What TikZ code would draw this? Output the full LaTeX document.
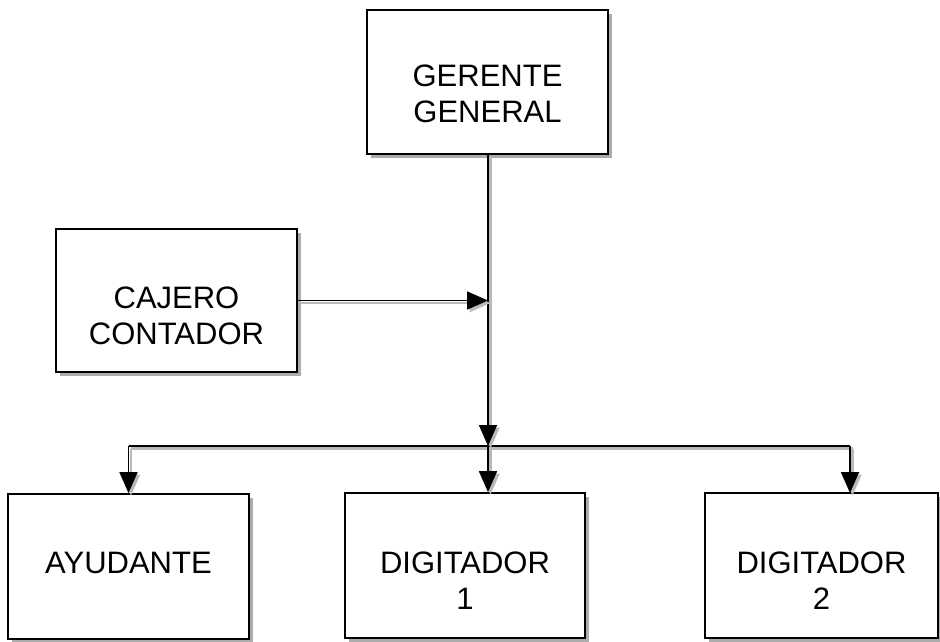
\documentclass[tikz,border=0pt]{standalone}
\usepackage{fontspec}
\setmainfont{Liberation Sans}
\usetikzlibrary{arrows.meta,shadows,calc}
\newcommand{\shiftedtext}[2]{\raisebox{#1}[\height][\depth]{\begin{tabular}{@{}c@{}}#2\end{tabular}}}
\begin{document}
\begin{tikzpicture}[x=1pt,y=1pt,
  box/.style={draw=black, line width=1.8pt, fill=white, rectangle, align=center,
    inner sep=0pt, font=\fontsize{31}{36}\selectfont,
    drop shadow={shadow xshift=3.5pt, shadow yshift=-3.5pt, fill=gray!65, opacity=1}},
  conn/.style={line width=1.8pt, -{Triangle[length=21pt,width=18pt]},
    preaction={draw=gray!55, line width=2.2pt, -{Triangle[length=21pt,width=18pt]},
      transform canvas={xshift=2.5pt,yshift=-2.5pt}}},
  line/.style={line width=1.8pt,
    preaction={draw=gray!55, line width=2.2pt,
      transform canvas={xshift=2.5pt,yshift=-2.5pt}}}
]
\useasboundingbox (0,0) rectangle (940,-641);
\fill[white] (0,0) rectangle (940,-641);

\node[box, minimum width=241pt, minimum height=144pt] (g) at (487.5,-82) {\shiftedtext{-15pt}{GERENTE\\GENERAL}};
\node[box, minimum width=241pt, minimum height=143pt] (c) at (176.5,-300.5) {\shiftedtext{-19pt}{CAJERO\\CONTADOR}};
\node[box, minimum width=241pt, minimum height=145pt] (a) at (128.5,-566.5) {\shiftedtext{0pt}{AYUDANTE}};
\node[box, minimum width=240pt, minimum height=145pt] (d1) at (465,-565.5) {\shiftedtext{-19pt}{DIGITADOR\\1}};
\node[box, minimum width=233pt, minimum height=145pt] (d2) at (821.5,-565.5) {\shiftedtext{-19pt}{DIGITADOR\\2}};

\coordinate (j) at (488,-446);
\coordinate (jr) at (850,-446);
\coordinate (d2in) at (850,-493);

\draw[line] (a.north |- j) -- (jr);
\draw[conn] (g.south -| j) -- (j);
\draw[conn] (c.east) -- (c.east -| j);
\draw[conn] (j) -- (j |- d1.north);
\draw[conn] (a.north |- j) -- (a.north);
\draw[conn] (jr) -- (d2in);
\end{tikzpicture}
\end{document}
